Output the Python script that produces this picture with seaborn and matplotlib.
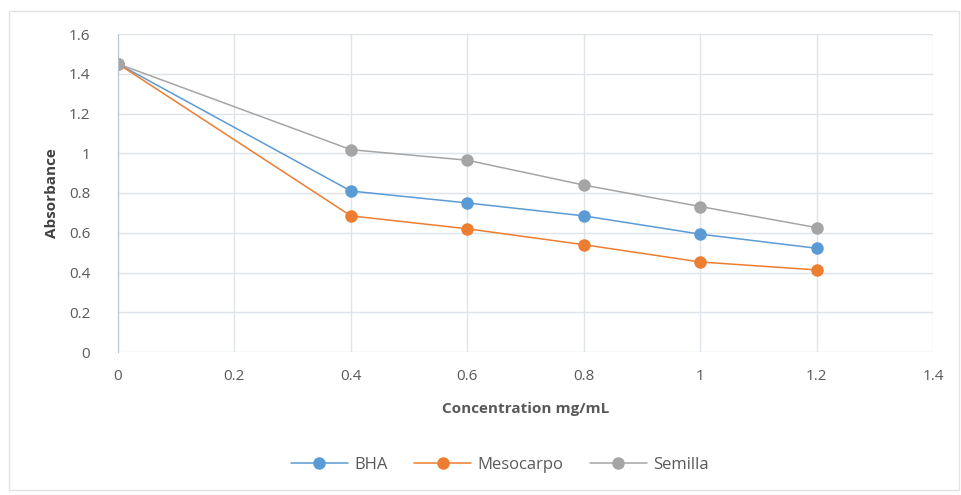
import matplotlib
matplotlib.use('Agg')
import matplotlib.pyplot as plt
import seaborn as sns
import pandas as pd
from matplotlib.patches import Rectangle

conc = [0, 0.4, 0.6, 0.8, 1.0, 1.2]
bha = [1.45, 0.81, 0.75, 0.685, 0.593, 0.522]
mesocarpo = [1.45, 0.685, 0.62, 0.54, 0.453, 0.413]
semilla = [1.45, 1.018, 0.965, 0.84, 0.732, 0.626]

series = ['BHA', 'Mesocarpo', 'Semilla']
colors = {'BHA': '#5B9BD5', 'Mesocarpo': '#ED7D31', 'Semilla': '#A5A5A5'}

df = pd.concat([
    pd.DataFrame({'conc': conc, 'abs': vals, 'serie': name})
    for name, vals in zip(series, [bha, mesocarpo, semilla])
])

sns.set_style('white')
plt.rcParams['font.family'] = ['Open Sans', 'DejaVu Sans']

fig = plt.figure(figsize=(9.61, 4.95), dpi=100)
ax = fig.add_axes([118 / 961, 143 / 495, 815 / 961, 318 / 495])

# outer chart frame
fig.patches.append(Rectangle((9 / 961, 5 / 495), 950 / 961, 479 / 495,
                             transform=fig.transFigure, fill=False,
                             edgecolor='#e3e3e3', linewidth=1))

sns.lineplot(data=df, x='conc', y='abs', hue='serie', palette=colors,
             marker='o', markersize=9, markeredgewidth=0, linewidth=1.1,
             errorbar=None, ax=ax, sort=False)

ax.set_xlim(0, 1.4)
ax.set_ylim(0, 1.6)
ax.set_xticks([0, 0.2, 0.4, 0.6, 0.8, 1.0, 1.2, 1.4])
ax.set_xticklabels(['0', '0.2', '0.4', '0.6', '0.8', '1', '1.2', '1.4'])
ax.set_yticks([0, 0.2, 0.4, 0.6, 0.8, 1.0, 1.2, 1.4, 1.6])
ax.set_yticklabels(['0', '0.2', '0.4', '0.6', '0.8', '1', '1.2', '1.4', '1.6'])
ax.grid(True, color='#dfe3ea', linewidth=1)
ax.set_axisbelow(True)
for s in ['top', 'right', 'bottom']:
    ax.spines[s].set_visible(False)
ax.spines['left'].set_color('#b4c3d6')
ax.tick_params(axis='both', length=0, labelsize=11, labelcolor='#595959', pad=12)
ax.tick_params(axis='y', pad=20)

ax.set_xlabel('Concentration mg/mL', fontsize=11, fontweight='bold',
              color='#595959', labelpad=13)
ax.set_ylabel('Absorbance', fontsize=11, fontweight='bold',
              color='#404040', labelpad=7)

handles, labels = ax.get_legend_handles_labels()
ax.legend(handles, labels, loc='center', bbox_to_anchor=(500 / 961, 30 / 495),
          bbox_transform=fig.transFigure, ncol=3, frameon=False,
          fontsize=12, labelcolor='#595959', handlelength=3.4,
          columnspacing=1.6, handletextpad=0.4)

fig.savefig('out.png', dpi=100)
